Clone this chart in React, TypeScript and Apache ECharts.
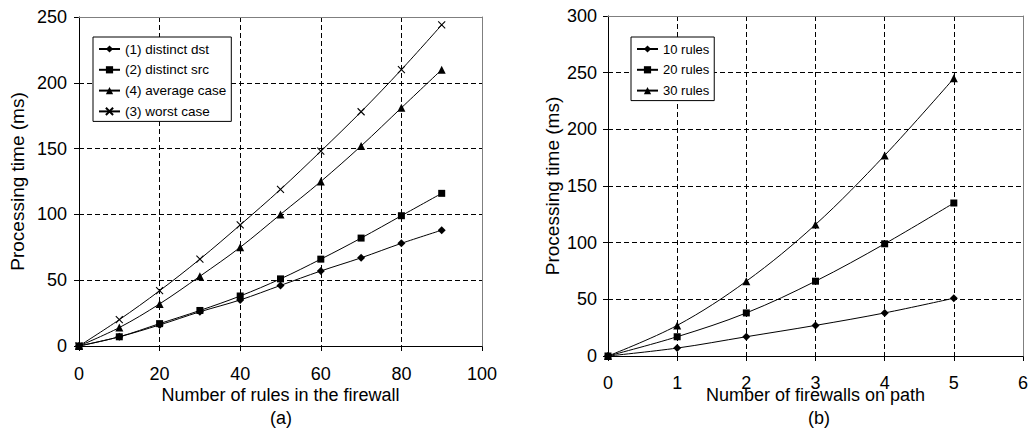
import React, { useEffect, useRef } from "react";
import * as echarts from "echarts";

// Chart (a): processing time vs number of rules
const rulesX = [0, 10, 20, 30, 40, 50, 60, 70, 80, 90];
const distinctDst = [0, 7, 16, 26, 35, 46, 57, 67, 78, 88];
const distinctSrc = [0, 7, 17, 27, 38, 51, 66, 82, 99, 116];
const averageCase = [0, 14, 32, 53, 75, 100, 125, 152, 181, 210];
const worstCase = [0, 20, 42, 66, 92, 119, 148, 178, 210, 244];
const namesA = ["(1) distinct dst", "(2) distinct src", "(4) average case", "(3) worst case"];

// Chart (b): processing time vs number of firewalls on path
const firewallsX = [0, 1, 2, 3, 4, 5];
const rules10 = [0, 7, 17, 27, 38, 51];
const rules20 = [0, 17, 38, 66, 99, 135];
const rules30 = [0, 27, 66, 116, 177, 245];
const namesB = ["10 rules", "20 rules", "30 rules"];

const FONT = "'Liberation Sans', Arial, sans-serif";
const CROSS = "path://M0,0L10,10M10,0L0,10";

const pairs = (xs: number[], ys: number[]) => xs.map((x, i) => [x, ys[i]]);

function lineSeries(name: string, data: number[][], symbol: string, size: number, idx: number) {
  const isCross = symbol === CROSS;
  return {
    type: "line",
    name,
    xAxisIndex: idx,
    yAxisIndex: idx,
    data,
    smooth: 0.35,
    symbol,
    symbolSize: size,
    color: "#000",
    lineStyle: { color: "#000", width: 1 },
    itemStyle: isCross
      ? { color: "#000", borderColor: "#000", borderWidth: 1.1 }
      : { color: "#000", borderWidth: 0 },
    z: 3,
  };
}

function mainX(gridIndex: number, max: number, interval: number, margin: number, nameGap: number, name: string) {
  return {
    type: "value",
    gridIndex,
    min: 0,
    max,
    interval,
    name,
    nameLocation: "middle",
    nameGap,
    nameMoveOverlap: false,
    nameTextStyle: { fontFamily: FONT, fontSize: 18, color: "#000" },
    axisLine: { show: true, lineStyle: { color: "#000", width: 1 } },
    axisTick: { show: true, length: 5, lineStyle: { color: "#000" } },
    axisLabel: { fontFamily: FONT, fontSize: 18, color: "#000", margin },
    splitLine: { show: true, lineStyle: { color: "#000", width: 1, type: [5, 3] } },
  };
}

function mainY(gridIndex: number, max: number, margin: number, nameGap: number) {
  return {
    type: "value",
    gridIndex,
    min: 0,
    max,
    interval: 50,
    name: "Processing time (ms)",
    nameLocation: "middle",
    nameGap,
    nameMoveOverlap: false,
    nameTextStyle: { fontFamily: FONT, fontSize: 19, color: "#000" },
    axisLine: { show: true, lineStyle: { color: "#000", width: 1 } },
    axisTick: { show: true, length: 5, lineStyle: { color: "#000" } },
    axisLabel: { fontFamily: FONT, fontSize: 18, color: "#000", margin },
    splitLine: { show: true, lineStyle: { color: "#000", width: 1, type: [5, 3] } },
  };
}

function borderAxis(kind: "x" | "y", gridIndex: number, max: number) {
  return {
    type: "value",
    gridIndex,
    min: 0,
    max,
    position: kind === "x" ? "top" : "right",
    z: 2,
    axisLine: { show: true, onZero: false, lineStyle: { color: "#7f7f7f", width: 1 } },
    axisTick: { show: false },
    axisLabel: { show: false },
    splitLine: { show: false },
  };
}

function legend(left: number, names: string[], fontSize: number) {
  return {
    show: true,
    orient: "vertical",
    left,
    top: 37,
    data: names,
    padding: [5, 5, 3, 5],
    itemWidth: 21,
    itemHeight: 9,
    itemGap: 6.8,
    borderColor: "#000",
    borderWidth: 1,
    backgroundColor: "#fff",
    borderRadius: 0,
    selectedMode: false,
    textStyle: { fontFamily: FONT, fontSize, color: "#000", lineHeight: 14 },
    z: 5,
  };
}

export default function App() {
  const ref = useRef<HTMLDivElement>(null);
  useEffect(() => {
    if (!ref.current) return;
    const chart = echarts.init(ref.current, null, { renderer: "svg" });
    chart.setOption({
      animation: false,
      backgroundColor: "#fff",
      grid: [
        { left: 79, top: 17, width: 403, height: 329, show: false },
        { left: 608, top: 16, width: 421, height: 340, show: false },
      ],
      xAxis: [
        mainX(0, 100, 20, 19, 40, "Number of rules in the firewall"),
        mainX(1, 6, 1, 18, 30, "Number of firewalls on path"),
        borderAxis("x", 0, 100),
        borderAxis("x", 1, 6),
      ],
      yAxis: [
        mainY(0, 250, 12, 52),
        mainY(1, 300, 11, 46),
        borderAxis("y", 0, 250),
        borderAxis("y", 1, 300),
      ],
      legend: [legend(93, namesA, 13.5), legend(631, namesB, 13)],
      graphic: [
        {
          type: "text",
          x: 281,
          y: 418,
          style: { text: "(a)", font: `18px ${FONT}`, fill: "#000", textAlign: "center", textVerticalAlign: "middle" },
        },
        {
          type: "text",
          x: 819,
          y: 418,
          style: { text: "(b)", font: `18px ${FONT}`, fill: "#000", textAlign: "center", textVerticalAlign: "middle" },
        },
      ],
      series: [
        lineSeries(namesA[0], pairs(rulesX, distinctDst), "diamond", 8, 0),
        lineSeries(namesA[1], pairs(rulesX, distinctSrc), "rect", 7, 0),
        lineSeries(namesA[2], pairs(rulesX, averageCase), "triangle", 8, 0),
        lineSeries(namesA[3], pairs(rulesX, worstCase), CROSS, 7, 0),
        lineSeries(namesB[0], pairs(firewallsX, rules10), "diamond", 8, 1),
        lineSeries(namesB[1], pairs(firewallsX, rules20), "rect", 7, 1),
        lineSeries(namesB[2], pairs(firewallsX, rules30), "triangle", 8, 1),
      ],
    });
    return () => chart.dispose();
  }, []);
  return (
    <div
      ref={ref}
      style={{ position: "fixed", left: 0, top: 0, width: 1031, height: 432, background: "#fff" }}
    />
  );
}
